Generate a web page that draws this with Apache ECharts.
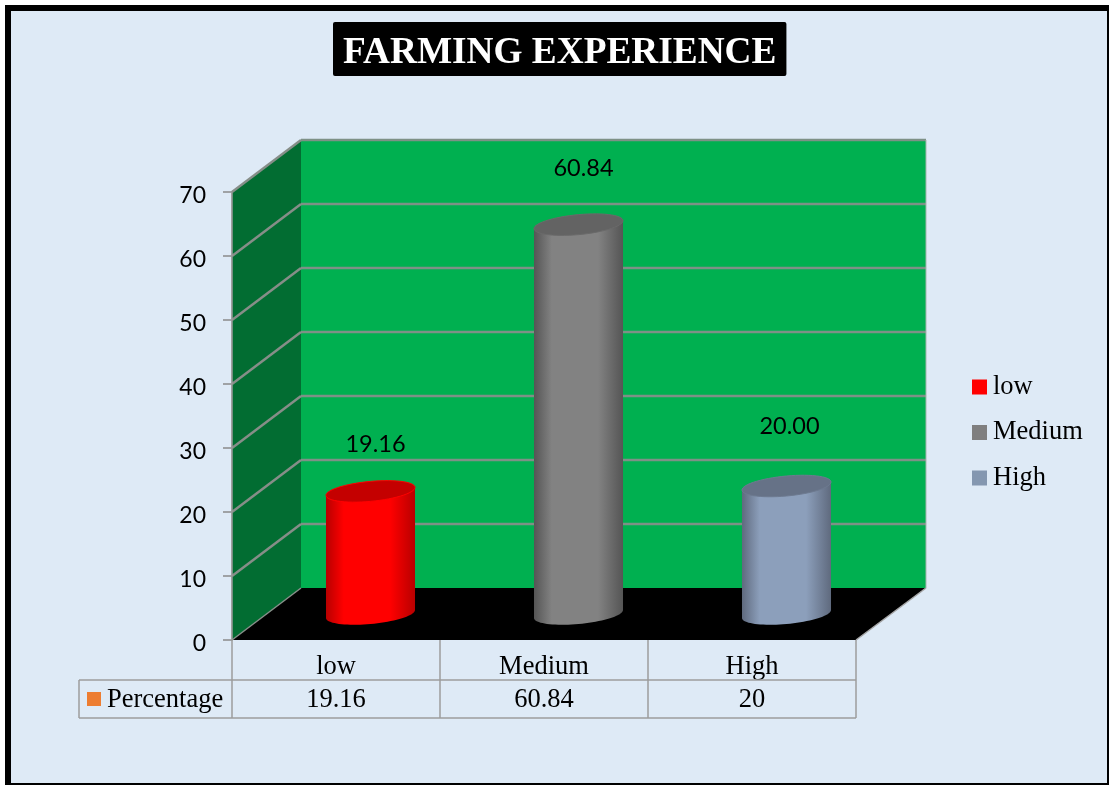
<!DOCTYPE html>
<html>
<head>
<meta charset="utf-8">
<style>html,body{margin:0;padding:0;background:#fff}#c{width:1109px;height:785px}</style>
<script src="https://cdn.jsdelivr.net/npm/echarts@6/dist/echarts.min.js"></script>
</head>
<body>
<div id="c"></div>
<script>
const chartTitle = 'FARMING EXPERIENCE';
const categories = ['low', 'Medium', 'High'];
const percentages = [19.16, 60.84, 20];
const dataLabels = ['19.16', '60.84', '20.00'];
const tableLabels = ['19.16', '60.84', '20'];
const tableRowName = 'Percentage';
const yTicks = { min: 0, max: 70, interval: 10 };

const SERIF = '"Liberation Serif","Times New Roman",serif';
const SANS = 'Lato,"Open Sans",sans-serif';
const DEPTH = [69, -52];
const BAR_SHIFT = [34.5, -26];
const labelNudge = [[5, -47], [5, -56], [3, -60]];
const looks = [
  { legend: '#ff0000', edge: '#b80000', mid: '#ff0000', top: '#c40000', rim: '#ff0000' },
  { legend: '#7f7f7f', edge: '#555555', mid: '#828282', top: '#636363', rim: '#6a6a6a' },
  { legend: '#8497b0', edge: '#5f6a7e', mid: '#8c9fbb', top: '#667287', rim: '#6d7a90' }
];

function ellipsePts(cx, cy, rx, ry, k, from, to, n) {
  const pts = [];
  for (let i = 0; i <= n; i++) {
    const t = from + (to - from) * i / n;
    pts.push([cx + rx * Math.cos(t), cy + ry * Math.sin(t) - k * Math.cos(t)]);
  }
  return pts;
}

function cylinder(idx) {
  const look = looks[idx];
  return function (params, api) {
    const cat = api.value(0), val = api.value(1);
    const topP = api.coord([cat, val]);
    const baseP = api.coord([cat, 0]);
    const band = api.size([1, 0])[0];
    const rx = band * 0.214, ry = 10, k = 4;
    const cx = topP[0] + BAR_SHIFT[0];
    const topY = topP[1] + BAR_SHIFT[1];
    const botY = baseP[1] + BAR_SHIFT[1];
    const body = [[cx - rx, topY + k]].concat(
      [[cx + rx, topY - k]],
      ellipsePts(cx, botY, rx, ry, k, 0, Math.PI, 40)
    );
    return {
      type: 'group',
      children: [
        { type: 'polygon', shape: { points: body }, style: {
          fill: { type: 'linear', x: 0, y: 0, x2: 1, y2: 0, colorStops: [
            { offset: 0, color: look.edge },
            { offset: 0.2, color: look.mid },
            { offset: 0.72, color: look.mid },
            { offset: 1, color: look.edge }
          ] } } },
        { type: 'polygon', shape: { points: ellipsePts(cx, topY, rx, ry, k, 0, Math.PI * 2, 60) },
          style: { fill: look.top, stroke: look.rim, lineWidth: 1 } },
        { type: 'text', style: {
          text: dataLabels[cat], x: cx + labelNudge[cat][0], y: topY + labelNudge[cat][1],
          fontFamily: SANS, fontSize: 23.5, fill: '#000', align: 'center', verticalAlign: 'middle' } }
      ]
    };
  };
}

function scene(params, api) {
  const cs = params.coordSys;
  const L = cs.x, R = cs.x + cs.width;
  const y0 = api.coord([0, yTicks.min])[1];
  const yT = api.coord([0, yTicks.max])[1];
  const dx = DEPTH[0], dy = DEPTH[1];
  const kids = [];
  const poly = (pts, fill) => kids.push({ type: 'polygon', shape: { points: pts }, style: { fill } });
  const line = (a, b, color, w) => kids.push({ type: 'line',
    shape: { x1: a[0], y1: a[1], x2: b[0], y2: b[1] }, style: { stroke: color, lineWidth: w } });
  const rb = R + dx + 1;
  poly([[L + dx, yT + dy], [rb, yT + dy], [rb, y0 + dy], [L + dx, y0 + dy]], '#00b050');
  poly([[L, yT], [L + dx, yT + dy], [L + dx, y0 + dy], [L, y0]], '#026d32');
  poly([[L, y0], [L + dx, y0 + dy], [rb, y0 + dy], [R, y0]], '#000000');
  for (let v = yTicks.min + yTicks.interval; v <= yTicks.max; v += yTicks.interval) {
    const y = api.coord([0, v])[1];
    line([L, y], [L + dx, y + dy], '#868e88', 2.5);
    line([L + dx, y + dy], [rb, y + dy], '#7e9186', 2.5);
  }
  line([L, y0], [L + dx, y0 + dy], '#868e88', 1.5);
  line([L, y0], [L, yT], '#9a9a9a', 1.5);
  line([rb, yT + dy], [rb, y0 + dy], '#a5b5ad', 1);
  line([R, y0], [rb, y0 + dy], '#a5a5a5', 1.5);

  const gray = '#9d9d9d';
  const rowTop = y0 + 40, rowBot = y0 + 78, rowLeft = 79;
  const step = cs.width / categories.length;
  for (let i = 0; i <= categories.length; i++) {
    line([L + step * i, y0], [L + step * i, rowBot], gray, 1.5);
  }
  line([rowLeft, rowTop], [R, rowTop], gray, 1.5);
  line([rowLeft, rowBot], [R, rowBot], gray, 1.5);
  line([rowLeft, rowTop], [rowLeft, rowBot], gray, 1.5);
  kids.push({ type: 'rect', shape: { x: 87, y: rowTop + 12, width: 14, height: 14 }, style: { fill: '#ed7d31' } });
  kids.push({ type: 'text', style: { text: tableRowName, x: 107, y: rowTop + 20.5,
    fontFamily: SERIF, fontSize: 26.5, fill: '#000', align: 'left', verticalAlign: 'middle' } });
  categories.forEach((c, i) => {
    kids.push({ type: 'text', style: { text: tableLabels[i], x: api.coord([i, 0])[0], y: rowTop + 20.5,
      fontFamily: SERIF, fontSize: 26.5, fill: '#000', align: 'center', verticalAlign: 'middle' } });
  });
  return { type: 'group', children: kids };
}

const chart = echarts.init(document.getElementById('c'), null, { renderer: 'canvas' });
chart.setOption({
  animation: false,
  backgroundColor: '#ffffff',
  graphic: [{ type: 'rect', z: -10, silent: true,
    shape: { x: 8, y: 8, width: 1102, height: 778 },
    style: { fill: '#deeaf6', stroke: '#000', lineWidth: 6 } }],
  title: {
    text: chartTitle, left: 333, top: 22, padding: [12, 10, 3, 10],
    backgroundColor: '#000', borderRadius: 2,
    textStyle: { color: '#fff', fontFamily: SERIF, fontWeight: 'bold', fontSize: 37.3, lineHeight: 39 }
  },
  legend: {
    orient: 'vertical', left: 967, top: 367, icon: 'rect',
    itemWidth: 15, itemHeight: 15, itemGap: 15.5, itemStyle: { borderWidth: 0 },
    data: categories, selectedMode: false,
    textStyle: { fontFamily: SERIF, fontSize: 26.5, color: '#000', padding: [0, 0, 0, 1], lineHeight: 30 }
  },
  grid: { left: 232, right: 253, top: 192, bottom: 145, containLabel: false },
  xAxis: {
    type: 'category', data: categories,
    axisLine: { show: false }, axisTick: { show: false },
    axisLabel: { fontFamily: SERIF, fontSize: 26.5, color: '#000', margin: 14 }
  },
  yAxis: {
    type: 'value', min: yTicks.min, max: yTicks.max, interval: yTicks.interval,
    splitLine: { show: false },
    axisLine: { show: true, lineStyle: { color: '#9a9a9a', width: 1.5 } },
    axisTick: { show: true, length: 9, lineStyle: { color: '#8a8a8a', width: 1.5 } },
    axisLabel: { fontFamily: SANS, fontSize: 23, color: '#000', margin: 26, verticalAlign: 'top', lineHeight: 8 }
  },
  series: [
    { type: 'custom', name: 'scene', z: 1, silent: true, renderItem: scene, data: [[0, 0]], clip: false },
  ].concat(categories.map((c, i) => ({
    type: 'custom', name: c, z: 3, renderItem: cylinder(i),
    itemStyle: { color: looks[i].legend }, clip: false,
    encode: { x: 0, y: 1 },
    data: [[i, percentages[i]]]
  })))
});
</script>
</body>
</html>
